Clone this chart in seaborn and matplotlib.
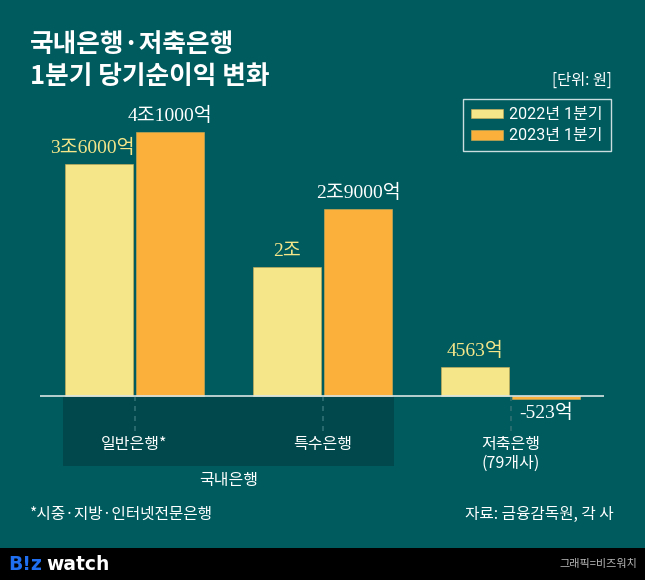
import pandas as pd
import numpy as np
import matplotlib.pyplot as plt
import seaborn as sns
from matplotlib.patches import Patch, Rectangle
import matplotlib.transforms as mtransforms

# data (단위: 억원)
banks = ['일반은행*', '특수은행', '저축은행\n(79개사)']
years = ['2022년 1분기', '2023년 1분기']
q1_2022 = [36000, 20000, 4563]
q1_2023 = [41000, 29000, -523]
labels_2022 = ['3조6000억', '2조', '4563억']
labels_2023 = ['4조1000억', '2조9000억', '-523억']

BG = '#005B5E'
DARK = '#00484B'
YELLOW = '#F5E68A'
ORANGE = '#FBB03B'

df = pd.DataFrame({
    'bank': banks * 2,
    'year': [years[0]] * 3 + [years[1]] * 3,
    'value': q1_2022 + q1_2023,
})

sns.set_theme(style='white')
plt.rcParams['font.family'] = ['Noto Sans CJK KR', 'DejaVu Sans']

W, H = 645, 580
fig = plt.figure(figsize=(W / 100, H / 100), dpi=100, facecolor=BG)
# axes placed in pixel terms: x 40..604, y 100..470 (from top)
ax = fig.add_axes([40 / W, 1 - 470 / H, 564 / W, 370 / H])
ax.set_facecolor('none')

sns.barplot(data=df, x='bank', y='value', hue='year', order=banks,
            hue_order=years, palette=[YELLOW, ORANGE], saturation=1,
            width=0.76, gap=0.05, edgecolor='#D2AE55', linewidth=0.4,
            ax=ax, legend=False, zorder=3)

ax.set_xlim(-0.503, 2.497)
ax.set_ylim(-11500, 46000)
for s in ax.spines.values():
    s.set_visible(False)
ax.set_xticks([])
ax.set_yticks([])
ax.set_xlabel('')
ax.set_ylabel('')

# baseline
ax.axhline(0, color='#D8E4E4', lw=1.2, zorder=4)

# dark box behind 국내은행 group
ax.add_patch(Rectangle((-0.38, -10900), 1.76, 10900, facecolor=DARK,
                       edgecolor='none', zorder=1))
# dashed guides
for i in range(len(banks)):
    ax.plot([i, i], [0, -5400], ls=(0, (3, 3)), color='#2F7073', lw=1.2, zorder=2)

# value labels
lab_font = ['Liberation Serif', 'Noto Sans CJK KR']
for k, (bars, labs, col) in enumerate([(ax.containers[0], labels_2022, YELLOW),
                                       (ax.containers[1], labels_2023, 'white')]):
    for j, (bar, lab) in enumerate(zip(bars, labs)):
        h = bar.get_height()
        x = bar.get_x() + bar.get_width() / 2
        # long label on first yellow bar is nudged left, like the original
        dx = -5 if (k == 0 and j == 0) else 0
        if h >= 0:
            ax.annotate(lab, (x, h), xytext=(dx, 5), textcoords='offset points',
                        ha='center', va='bottom', color=col, fontsize=14,
                        family=lab_font, zorder=5)
        else:
            ax.annotate(lab, (x, h), xytext=(0, -3), textcoords='offset points',
                        ha='center', va='top', color=col, fontsize=14,
                        family=lab_font, zorder=5)

# category labels
tr = mtransforms.blended_transform_factory(ax.transData, fig.transFigure)
for i, b in enumerate(banks):
    ax.text(i, 1 - 445 / H if i < 2 else 1 - 454 / H, b, transform=tr,
            ha='center', va='center', color='white', fontsize=11.5,
            fontweight='medium', linespacing=1.15, zorder=5)
ax.text(0.5, 1 - 481 / H, '국내은행', transform=tr, ha='center', va='center',
        color='white', fontsize=11.5, fontweight='medium')

# title
fig.text(30 / W, 1 - 45 / H, '국내은행·저축은행', color='white', fontsize=18.5,
         fontweight='bold', va='center', ha='left')
fig.text(30 / W, 1 - 76 / H, '1분기 당기순이익 변화', color='white', fontsize=18.5,
         fontweight='bold', va='center', ha='left')
fig.text(612 / W, 1 - 80 / H, '[단위: 원]', color='white', fontsize=11,
         va='center', ha='right')

# legend
handles = [Patch(facecolor=YELLOW, edgecolor='#D2AE55', lw=0.4),
           Patch(facecolor=ORANGE, edgecolor='#D2AE55', lw=0.4)]
leg = fig.legend(handles, years, loc='upper right',
                 bbox_to_anchor=(611 / W, 1 - 99 / H), frameon=True,
                 fancybox=False, facecolor='none', edgecolor='white',
                 handlelength=2.0, handleheight=0.55, handletextpad=0.4,
                 borderpad=0.5, labelspacing=0.4, borderaxespad=0,
                 prop={'family': ['Roboto', 'Noto Sans CJK KR'], 'size': 11.5})
leg.get_frame().set_linewidth(1.0)
for t in leg.get_texts():
    t.set_color('white')

# footnotes
fig.text(30 / W, 1 - 514 / H, '*시중·지방·인터넷전문은행', color='white',
         fontsize=11.3, fontweight='medium', va='center', ha='left')
fig.text(614 / W, 1 - 514 / H, '자료: 금융감독원, 각 사', color='white',
         fontsize=11.3, fontweight='medium', va='center', ha='right')

# footer strip
fig.add_artist(Rectangle((0, 0), 1, 32 / H, transform=fig.transFigure,
                         facecolor='black', edgecolor='none', zorder=0))
fig.text(8 / W, 1 - 564 / H, 'B!z', color='#1F6FF0', fontsize=13.5,
         fontweight='bold', va='center', ha='left', family='DejaVu Sans')
fig.text(46 / W, 1 - 564 / H, 'watch', color='white', fontsize=13.5,
         fontweight='bold', va='center', ha='left', family='DejaVu Sans')
fig.text(637 / W, 1 - 564 / H, '그래픽=비즈워치', color='#B5B5B5', fontsize=8,
         va='center', ha='right')

fig.savefig('out.png', dpi=100, facecolor=BG)
